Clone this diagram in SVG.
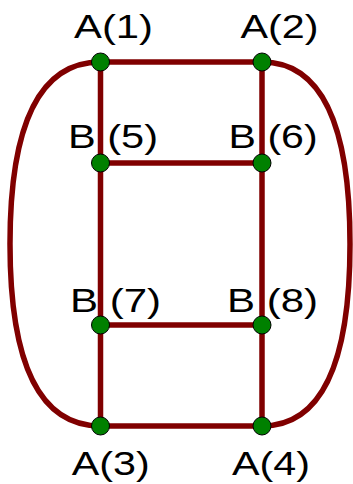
<svg xmlns="http://www.w3.org/2000/svg" width="353" height="484" viewBox="0 0 353 484">
<style>
.e{stroke:#800000;stroke-width:5.5;fill:none;stroke-linecap:butt}
.n{fill:#008000;stroke:#000;stroke-width:1}
.t{font-family:"Liberation Sans",Arial,sans-serif;font-size:34px;fill:#000}
</style>
<rect width="353" height="484" fill="#fff"/>
<g id="edges">
<path class="e" d="M100.5,62 Q10,62 10,244 Q10,426 100.5,426"/>
<path class="e" d="M262,62 Q350,62 350,244 Q350,426 262,426"/>
<line class="e" x1="100.5" y1="62" x2="262" y2="62"/>
<line class="e" x1="100.5" y1="163" x2="262" y2="163"/>
<line class="e" x1="100.5" y1="325" x2="262" y2="325"/>
<line class="e" x1="100.5" y1="426" x2="262" y2="426"/>
<line class="e" x1="100.5" y1="62" x2="100.5" y2="426"/>
<line class="e" x1="262" y1="62" x2="262" y2="426"/>
</g>
<g id="A1"><circle class="n" cx="100.5" cy="62" r="9"/><text class="t" x="74" y="37.5" textLength="79" lengthAdjust="spacingAndGlyphs">A(1)</text></g>
<g id="A2"><circle class="n" cx="262" cy="62" r="9"/><text class="t" x="240.5" y="37.5" textLength="78" lengthAdjust="spacingAndGlyphs">A(2)</text></g>
<g id="B5"><circle class="n" cx="100.5" cy="163" r="9"/><text class="t" x="68" y="148" textLength="90" lengthAdjust="spacingAndGlyphs">B (5)</text></g>
<g id="B6"><circle class="n" cx="262" cy="163" r="9"/><text class="t" x="228.6" y="148" textLength="89" lengthAdjust="spacingAndGlyphs">B (6)</text></g>
<g id="B7"><circle class="n" cx="100.5" cy="325" r="9"/><text class="t" x="70" y="311.7" textLength="91" lengthAdjust="spacingAndGlyphs">B (7)</text></g>
<g id="B8"><circle class="n" cx="262" cy="325" r="9"/><text class="t" x="227" y="311.7" textLength="91" lengthAdjust="spacingAndGlyphs">B (8)</text></g>
<g id="A3"><circle class="n" cx="100.5" cy="426" r="9"/><text class="t" x="71.7" y="475" textLength="78" lengthAdjust="spacingAndGlyphs">A(3)</text></g>
<g id="A4"><circle class="n" cx="262" cy="426" r="9"/><text class="t" x="232" y="475" textLength="78" lengthAdjust="spacingAndGlyphs">A(4)</text></g>
</svg>
